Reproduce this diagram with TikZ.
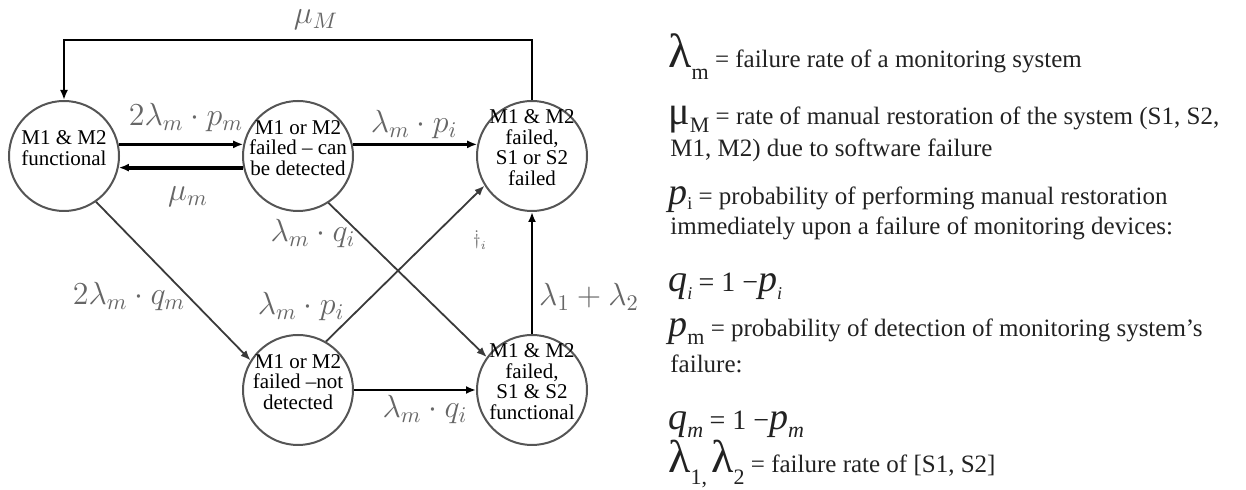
\RequirePackage{fix-cm}
\documentclass[tikz,border=0pt]{standalone}
\usepackage[no-math]{fontspec}
\setmainfont{Liberation Serif}
\usepackage{tikz}
\usetikzlibrary{arrows.meta, positioning, calc}
\definecolor{ringgray}{HTML}{555555}
\definecolor{labelgray}{HTML}{666666}
\definecolor{linegray}{HTML}{3A3A3A}
\definecolor{inkgray}{HTML}{222222}
\newcommand{\inside}[1]{\makebox[0pt]{\smash{\fontsize{10.5}{10}\selectfont\begin{tabular}{@{}c@{}}#1\end{tabular}}}}
\newcommand{\bigsym}[2]{{\fontsize{#1}{#1}\selectfont #2}}
\newcommand{\lowsub}[3]{\raisebox{-#1}{\fontsize{#2}{#2}\selectfont #3}}

\begin{document}
\begin{tikzpicture}[x=0.5pt, y=-0.5pt,
  node distance=61pt,
  state/.style={circle, draw=ringgray, line width=1pt, minimum size=55pt, inner sep=0pt},
  arrow/.style={-{Latex[length=5pt,width=4pt]}, line width=1.4pt, draw=black},
  diag/.style={-{Latex[length=5pt,width=4pt]}, line width=0.9pt, draw=linegray},
  lbl/.style={text=labelgray, font=\fontsize{16}{19}\selectfont, inner sep=0pt},
  legend/.style={anchor=base west, inner sep=0pt, text=inkgray, font=\fontsize{12.5}{15}\selectfont}
]
  \useasboundingbox (0,0) rectangle (1246,490);
  % states
  \node[state] (A) at (64,156) {\inside{M1 \& M2\\functional}};
  \node[state, right=of A] (B) {\inside{M1 or M2\\failed – can\\be detected}};
  \node[state, right=of B] (C) {\inside{M1 \& M2\\failed,\\S1 or S2\\failed}};
  \node[state, below=of B] (D) {\inside{M1 or M2\\failed –not\\detected}};
  \node[state, right=of D] (E) {\inside{M1 \& M2\\failed,\\S1 \& S2\\functional}};
  % transitions
  \draw[arrow] (A.12) -- (B.168);
  \draw[arrow, line width=1.9pt] (B.192) -- (A.-12);
  \draw[arrow] (B.12) -- (C.168);
  \draw[arrow] (D) -- (E);
  \draw[arrow] (E) -- (C);
  \draw[diag] (A.-55) -- (D.148);
  \draw[diag] (B.-57) -- (E.144);
  \draw[diag] (D.60) -- (C.212);
  \coordinate (ret) at (0,40);
  \draw[arrow] (C.north) -- (C.north |- ret) -| (A.north);
  % rates
  \node[lbl] (muM) at (316,20) {$\mu_M$};
  \node[lbl] (lab) at (186,118) {$2\lambda_m\cdot p_m$};
  \node[lbl] (lba) at (188,197) {$\mu_m$};
  \node[lbl] (lbc) at (414,125) {$\lambda_m\cdot p_i$};
  \node[lbl] (lbe) at (313,234) {$\lambda_m\cdot q_i$};
  \node[lbl] (ldc) at (301,307) {$\lambda_m\cdot p_i$};
  \node[lbl] (lad) at (129,297) {$2\lambda_m\cdot q_m$};
  \node[lbl] (lec) at (589,297) {$\lambda_1+\lambda_2$};
  \node[lbl] (lde) at (425,410) {$\lambda_m\cdot q_i$};
  \node[lbl, font=\fontsize{8}{8}\selectfont] (stray) at (480,240) {$\dot{\dagger}_i$};
  % legend
  \node[legend] (leg1) at (668,68) {\bigsym{24}{λ}\lowsub{6pt}{11}{m} = failure rate of a monitoring system};
  \node[legend] (leg2) at (668,125) {\bigsym{20}{μ}\lowsub{4pt}{11}{M} = rate of manual restoration of the system (S1, S2,};
  \node[legend] (leg3) at (670,157) {M1, M2) due to software failure};
  \node[legend] (leg4) at (668,205) {\bigsym{19}{\itshape p}\lowsub{2.5pt}{9}{i} = probability of performing manual restoration};
  \node[legend] (leg5) at (670,235) {immediately upon a failure of monitoring devices:};
  \node[legend] (leg6) at (668,292) {\bigsym{19}{\itshape q}\lowsub{4pt}{9}{\itshape i} {\fontsize{14}{14}\selectfont = 1 −}\bigsym{19}{\itshape p}\lowsub{4pt}{9}{\itshape i}};
  \node[legend] (leg7) at (668,337) {\bigsym{19}{\itshape p}\lowsub{4pt}{11}{m} = probability of detection of monitoring system’s};
  \node[legend] (leg8) at (670,373) {failure:};
  \node[legend] (leg9) at (668,430) {\bigsym{19}{\itshape q}\lowsub{4pt}{11}{\itshape m} {\fontsize{14}{14}\selectfont = 1 −}\bigsym{19}{\itshape p}\lowsub{4pt}{11}{\itshape m}};
  \node[legend] (leg10) at (668,473) {\bigsym{23}{λ}\lowsub{6pt}{11}{1,}\,\bigsym{23}{λ}\lowsub{6pt}{11}{2} = failure rate of [S1, S2]};
\end{tikzpicture}
\end{document}
